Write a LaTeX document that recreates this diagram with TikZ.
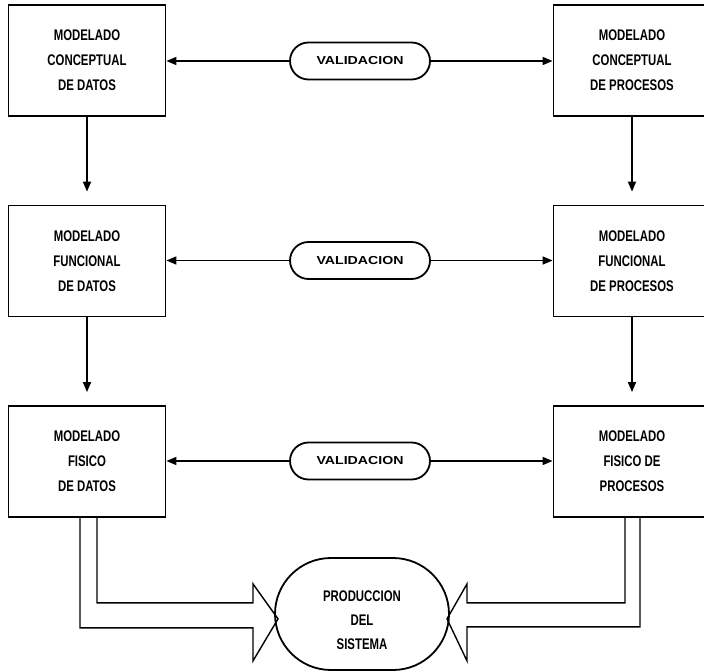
\documentclass[tikz,border=0pt]{standalone}
\usepackage{fontspec}
\setmainfont[FakeStretch=0.74]{Liberation Sans}
\newfontfamily\pillfont[FakeStretch=1.22]{Liberation Sans}
\usetikzlibrary{arrows.meta,shapes.misc,shapes.geometric,calc}
\tikzset{
  box/.style={draw, line width=1.8pt, minimum width=157pt, minimum height=111pt,
    inner sep=0pt, align=center, font=\bfseries\fontsize{15.4}{25}\selectfont},
  pill/.style={draw, rounded rectangle, line width=1.8pt, minimum width=140pt,
    minimum height=37pt, inner sep=0pt, font=\pillfont\bfseries\fontsize{11.6}{13}\selectfont},
  prod/.style={draw, rounded rectangle, line width=1.8pt, minimum width=174pt,
    minimum height=112pt, inner sep=0pt, align=center, font=\bfseries\fontsize{15.4}{24}\selectfont},
  arr/.style={line width=1.5pt, -{Triangle[length=10pt,width=8pt]}},
  hollow/.style={line width=1.4pt, line join=miter},
}
\begin{document}
\begin{tikzpicture}[x=1pt,y=-1pt]
\useasboundingbox (0,0) rectangle (704,671);
\clip (0,0) rectangle (704,671);
\fill[white] (0,0) rectangle (704,671);
\node[box] (cd) at (87,60.5) {MODELADO\\CONCEPTUAL\\DE DATOS};
\node[box] (cp) at (632,60.5) {MODELADO\\CONCEPTUAL\\DE PROCESOS};
\node[box] (fd) at (87,261) {MODELADO\\FUNCIONAL\\DE DATOS};
\node[box] (fp) at (632,261) {MODELADO\\FUNCIONAL\\DE PROCESOS};
\node[box] (sd) at (87,461.5) {MODELADO\\FISICO\\DE DATOS};
\node[box] (sp) at (632,461.5) {MODELADO\\FISICO DE\\PROCESOS};
\node[pill] (v1) at (360,61) {VALIDACION};
\node[pill] (v2) at (360,260.5) {VALIDACION};
\node[pill] (v3) at (360,461) {VALIDACION};
\node[prod] (ps) at (362,614) {\rule{0pt}{24pt}PRODUCCION\\DEL\\SISTEMA};
% validation arrows
\draw[arr] (v1.west) -- (v1.west -| cd.east);
\draw[arr] (v1.east) -- (v1.east -| cp.west);
\draw[arr] (v2.west) -- (v2.west -| fd.east);
\draw[arr] (v2.east) -- (v2.east -| fp.west);
\draw[arr] (v3.west) -- (v3.west -| sd.east);
\draw[arr] (v3.east) -- (v3.east -| sp.west);
% vertical arrows
\draw[arr] (cd.south) -- ([yshift=13pt]fd.north);
\draw[arr] (cp.south) -- ([yshift=13pt]fp.north);
\draw[arr] (fd.south) -- ([yshift=13pt]sd.north);
\draw[arr] (fp.south) -- ([yshift=13pt]sp.north);
% hollow arrows into production
\draw[hollow] ($(sd.south)+(-7,0)$) -- ++(0,110) -- ++(173,0) -- ++(0,33)
  -- ++(25,-42) -- ++(-25,-35) -- ++(0,19) -- ++(-156,0) -- ++(0,-85);
\draw[hollow] ($(sp.south)+(8,0)$) -- ++(0,109) -- ++(-173,0) -- ++(0,34)
  -- ++(-20,-42) -- ++(20,-35) -- ++(0,19) -- ++(158,0) -- ++(0,-85);
\end{tikzpicture}
\end{document}
